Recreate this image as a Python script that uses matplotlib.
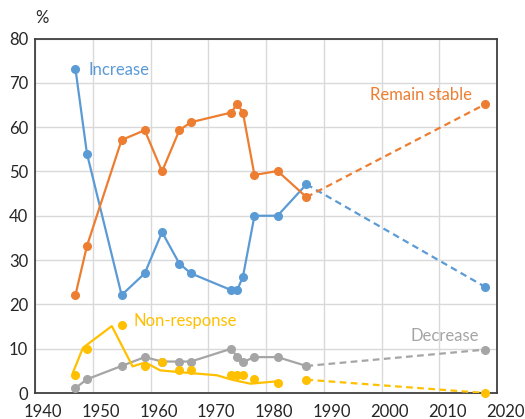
import matplotlib
matplotlib.use("Agg")
from matplotlib import pyplot as plt
from matplotlib.transforms import ScaledTranslation

plt.rcParams['font.family'] = ['Lato', 'DejaVu Sans']

# survey years (markers)
years = [1947, 1949, 1955, 1959, 1962, 1965, 1967, 1974, 1975, 1976, 1978, 1982, 1987]
increase = [73.2, 54.0, 22.1, 27.0, 36.3, 29.2, 27.0, 23.2, 23.2, 26.2, 40.0, 40.0, 47.1]
stable = [22.1, 33.2, 57.1, 59.3, 50.0, 59.3, 61.1, 63.3, 65.3, 63.3, 49.2, 50.1, 44.2]
decrease = [1.1, 3.1, 6.1, 8.1, 7.1, 7.1, 7.1, 10.0, 8.1, 7.0, 8.1, 8.1, 6.1]
nonresp = [4.1, 10.0, 15.3, 6.2, 7.0, 5.1, 5.1, 4.1, 4.1, 4.1, 3.1, 2.2, 3.0]

# the non-response line as drawn in the original (not through its markers)
nr_line_x = [1946.6, 1948.3, 1953.3, 1956.9, 1959.1, 1961.7, 1965.1, 1971.5, 1974.1, 1977.3, 1981.6]
nr_line_y = [4.7, 10.2, 15.1, 6.0, 6.9, 5.1, 4.7, 4.0, 3.0, 2.1, 2.6]

# latest point, joined with a dashed line
last_year = 2018
last_increase = 23.9
last_stable = 65.2
last_decrease = 9.8
last_nonresp = 0.0

blue = '#5B9BD5'
orange = '#ED7D31'
gray = '#A5A5A5'
yellow = '#FFC000'

fig = plt.figure(figsize=(5.25, 4.19), dpi=100)
ax = fig.add_axes([35 / 525, 26 / 419, 462 / 525, 354.5 / 419])

lw = 1.6
ms = 5.5

def series(vals, last, color, line=True):
    if line:
        ax.plot(years, vals, color=color, lw=lw, zorder=3)
    ax.plot(years, vals, 'o', color=color, ms=ms, zorder=4, clip_on=False)
    ax.plot([years[-1], last_year], [vals[-1], last], '--', color=color,
            lw=lw, dashes=(3, 2), zorder=3)
    ax.plot([last_year], [last], 'o', color=color, ms=ms, zorder=4, clip_on=False)

series(increase, last_increase, blue)
series(stable, last_stable, orange)
series(decrease, last_decrease, gray)
ax.plot(nr_line_x, nr_line_y, color=yellow, lw=lw, zorder=3)
series(nonresp, last_nonresp, yellow, line=False)

ax.set_xlim(1940, 2020)
ax.set_ylim(0, 80)
ax.set_xticks(range(1940, 2021, 10))
ax.set_yticks(range(0, 81, 10))
ax.grid(True, color='#D9D9D9', lw=1)
ax.set_axisbelow(True)
for s in ax.spines.values():
    s.set_color('#404040')
    s.set_linewidth(1.3)
ax.tick_params(length=0, labelsize=12, labelcolor='#262626')
ax.tick_params(axis='x', pad=8)
ax.tick_params(axis='y', pad=5)
shift = ScaledTranslation(8 / 100, 0, fig.dpi_scale_trans)
for lab in ax.get_xticklabels():
    lab.set_transform(lab.get_transform() + shift)

ax.text(1949.2, 72.8, 'Increase', color=blue, fontsize=12, va='center', ha='left')
ax.text(2015.7, 67.3, 'Remain stable', color=orange, fontsize=12, va='center', ha='right')
ax.text(1957.0, 16.2, 'Non-response', color=yellow, fontsize=12, va='center', ha='left')
ax.text(2016.8, 12.8, 'Decrease', color=gray, fontsize=12, va='center', ha='right')
fig.text(42 / 525, 1 - 18 / 419, '%', fontsize=12, color='#262626', ha='center', va='center')

fig.savefig('out.png', dpi=100)
